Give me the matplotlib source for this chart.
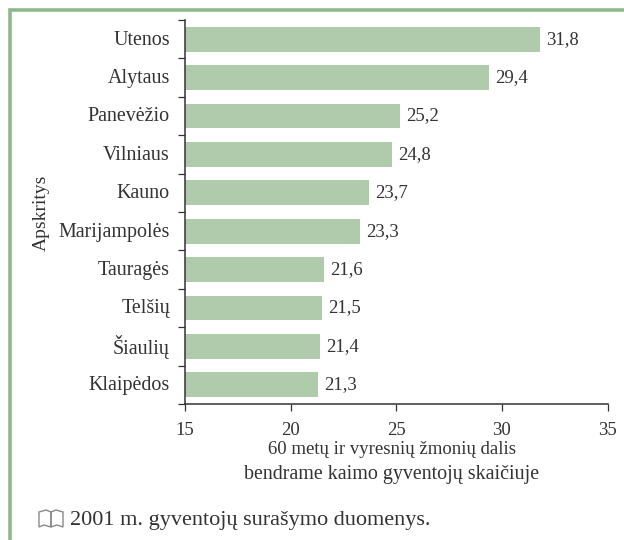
import matplotlib
matplotlib.use('Agg')
import matplotlib.pyplot as plt
from matplotlib.patches import Rectangle, Polygon

plt.rcParams['font.family'] = ['Liberation Serif', 'DejaVu Serif']

# duomenys
apskritys = ['Utenos', 'Alytaus', 'Panevėžio', 'Vilniaus', 'Kauno',
             'Marijampolės', 'Tauragės', 'Telšių', 'Šiaulių', 'Klaipėdos']
reiksmes = [31.8, 29.4, 25.2, 24.8, 23.7, 23.3, 21.6, 21.5, 21.4, 21.3]
reiksmiu_tekstai = ['31,8', '29,4', '25,2', '24,8', '23,7',
                    '23,3', '21,6', '21,5', '21,4', '21,3']
x_ticks = [15, 20, 25, 30, 35]

W, H = 624, 540
fig = plt.figure(figsize=(W / 100, H / 100), dpi=100)

# zalias remelis
green = '#8fb98c'
fig.add_artist(Rectangle((9.5 / W, -0.01), 1, 1 - 9.5 / H + 0.01, transform=fig.transFigure,
                         fill=False, edgecolor=green, linewidth=2.6))

ax = fig.add_axes([185 / W, 1 - 404 / H, (607.5 - 185) / W, (404 - 20) / H])
poz = list(range(len(apskritys)))
ax.barh(poz, reiksmes, height=0.65, color='#b0cbab', left=0)
ax.set_xlim(15, 35)
ax.set_ylim(len(apskritys) - 0.5, -0.5)

ax.spines['top'].set_visible(False)
ax.spines['right'].set_visible(False)
for s in ['left', 'bottom']:
    ax.spines[s].set_color('#333333')
    ax.spines[s].set_linewidth(1.1)

ax.set_xticks(x_ticks)
ax.tick_params(axis='x', length=5, width=0.9, color='#333333', labelsize=13.5,
               labelcolor='#333333', pad=8)

# y padalos tarp kategoriju
ax.set_yticks([i - 0.5 for i in range(len(apskritys) + 1)])
ax.set_yticklabels([])
ax.tick_params(axis='y', length=5, width=0.9, color='#333333')
for i, pav in enumerate(apskritys):
    ax.annotate(pav, (0, i), xycoords=('axes fraction', 'data'), xytext=(-15, -1),
                textcoords='offset pixels', ha='right', va='center',
                fontsize=14.4, color='#333333')

for i, (v, t) in enumerate(zip(reiksmes, reiksmiu_tekstai)):
    ax.annotate(t, (v, i), xytext=(6, 0), textcoords='offset pixels', ha='left',
                va='center', fontsize=13.5, color='#333333')

fig.text(41 / W, 1 - 213 / H, 'Apskritys', rotation=90, ha='center', va='center',
         fontsize=14, color='#333333')
fig.text(392 / W, 1 - 449 / H, '60 metų ir vyresnių žmonių dalis', ha='center',
         va='center', fontsize=13.5, color='#333333')
fig.text(392 / W, 1 - 475 / H, 'bendrame kaimo gyventojų skaičiuje', ha='center',
         va='center', fontsize=14.4, color='#333333')

# knygos ikona
ico = '#888888'
fig.add_artist(Polygon([(39 / W, 1 - 527 / H), (39 / W, 1 - 512 / H), (46 / W, 1 - 510 / H),
                        (51 / W, 1 - 512 / H), (51 / W, 1 - 527 / H), (44 / W, 1 - 525 / H)],
                       closed=True, transform=fig.transFigure, fill=False, edgecolor=ico, linewidth=1))
fig.add_artist(Polygon([(51 / W, 1 - 527 / H), (51 / W, 1 - 512 / H), (56 / W, 1 - 510 / H),
                        (63 / W, 1 - 512 / H), (63 / W, 1 - 527 / H), (57 / W, 1 - 525 / H)],
                       closed=True, transform=fig.transFigure, fill=False, edgecolor=ico, linewidth=1))
fig.text(70 / W, 1 - 521 / H, '2001 m. gyventojų surašymo duomenys.', ha='left',
         va='center', fontsize=16, color='#333333')

fig.savefig('out.png', dpi=100)
